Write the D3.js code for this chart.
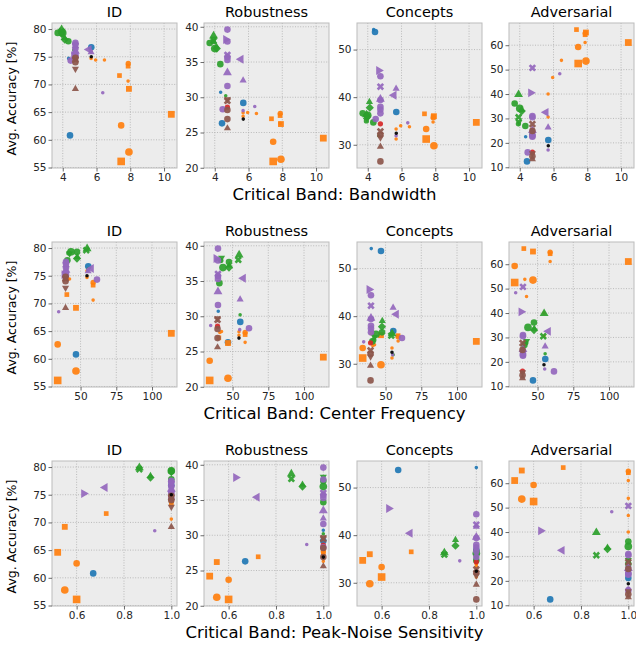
<!DOCTYPE html>
<html>
<head>
<meta charset="utf-8">
<script src="https://cdn.jsdelivr.net/npm/d3@7"></script>
<style>
  body { margin: 0; background: #fff; }
  svg { font-family: 'DejaVu Sans', sans-serif; font-weight: 400; }
</style>
</head>
<body>
<svg id="chart" width="636" height="645"></svg>
<script>
// one entry per model, grouped by family (blue, orange, green, red, purple, brown, black)
const family = [
  0, 0, 0,
  1, 1, 1, 1, 1, 1, 1, 1, 1, 1, 1, 1, 1,
  2, 2, 2, 2, 2, 2, 2, 2, 2, 2,
  3,
  4, 4, 4, 4, 4, 4, 4, 4, 4, 4, 4, 4, 4,
  5, 5, 5, 5, 5,
  6
]
const shape = [
  'o', 'o', 'o',
  's', 'o', 'o', 's', 's', 's', 'o', 's', 'o', 'o', 'o', 'o', 'o',
  '^', 'X', 'D', '^', 'o', 'o', 'o', 'v', 'o', 'o',
  'o',
  '>', '<', 'o', 'o', '^', 'o', 'o', 'X', 'o', '^', 'o', 'o', 'o',
  'X', 'o', 'o', 'v', '^',
  'o'
]
const sizeClass = [
  3, 3, 1,
  5, 4, 3, 4, 3, 2, 2, 2, 1, 1, 1, 1, 1,
  3, 3, 3, 2, 3, 4, 3, 2, 1, 2,
  2,
  3, 3, 1, 3, 2, 1, 3, 3, 3, 3, 3, 3, 3,
  3, 3, 3, 2, 2,
  1
]

const bandwidth = [
  4.43, 5.69, 4.35,
  7.46, 7.92, 7.46, 10.43, 7.92, 7.36, 7.88, 7.87, 7.87, 5.68, 5.68, 5.95, 6.47,
  3.93, 3.93, 4.12, 4.10, 3.70, 4.00, 4.33, 3.95, 4.65, 3.92,
  4.75,
  4.65, 5.55, 6.37, 4.47, 5.68, 5.68, 4.75, 4.75, 4.75, 4.75, 4.75, 4.75, 4.75,
  4.75, 4.75, 4.75, 4.75, 4.75,
  5.69
]
const centerFreq = [
  46.8, 55.4, 40.0,
  34.0, 46.8, 34.0, 113.5, 46.8, 40.4, 58.8, 58.8, 58.8, 54.5, 54.5, 42.3, 41.1,
  54.6, 54.0, 47.5, 47.7, 47.5, 43.3, 40.8, 42.3, 55.3, 41.8,
  39.5,
  38.5, 57.5, 34.7, 61.5, 55.3, 55.0, 39.8, 39.8, 39.8, 39.8, 39.8, 39.8, 39.8,
  39.5, 39.5, 39.5, 39.5, 39.5,
  54.5
]
const peakNoise = [
  0.67, 1, 1,
  0.60, 0.55, 0.60, 0.52, 0.55, 0.725, 1, 1, 1, 1, 1, 1, 1,
  0.865, 0.865, 0.912, 0.912, 1, 1, 1, 1, 1, 1,
  1,
  0.63, 0.72, 0.93, 1, 1, 1, 1, 1, 1, 1, 1, 1, 1,
  1, 1, 1, 1, 1,
  1
]

const accID = [
  60.8, 76.7, 74.7,
  56.1, 57.8, 62.6, 64.6, 69.2, 71.6, 73.8, 73.3, 70.6, 75.9, 74.7, 74.4, 74.4,
  79.9, 79.6, 78.1, 78.4, 79.3, 79.3, 77.8, 79.0, 76.2, 79.1,
  74.6,
  75.2, 76.3, 68.5, 74.3, 75.8, 76.0, 77.5, 77.0, 76.5, 76.0, 75.5, 77.2, 75.1,
  74.5, 74.0, 74.8, 72.8, 69.2,
  75.0
]
const accRob = [
  26.3, 29.2, 30.7,
  20.9, 21.2, 23.7, 24.2, 26.2, 26.95, 27.7, 27.4, 26.3, 27.8, 27.3, 27.85, 27.7,
  38.7, 38.0, 36.9, 37.2, 37.7, 36.9, 34.7, 38.3, 30.2, 37.9,
  28.6,
  38.2, 35.4, 28.7, 28.3, 32.4, 28.1, 39.6, 36.0, 35.7, 33.5, 31.6, 37.9, 35.3,
  29.5, 28.2, 26.9, 29.7, 25.6,
  26.9
]
const accCon = [
  53.7, 36.9, 54.2,
  31.2, 29.8, 33.3, 34.7, 36.0, 36.5, 35.7, 35.9, 34.8, 33.3, 31.2, 34.0, 33.8,
  36.3, 35.9, 37.8, 39.0, 36.6, 36.2, 34.7, 35.6, 31.9, 35.0,
  34.4,
  45.6, 40.4, 34.6, 35.4, 41.8, 31.9, 38.0, 42.2, 44.4, 39.6, 36.6, 39.4, 37.4,
  32.8, 32.1, 26.5, 31.5, 29.6,
  32.4
]
const accAdv = [
  12.4, 21.2, 22.5,
  52.5, 53.5, 59.3, 61.1, 65.2, 66.4, 64.9, 64.3, 61.1, 40.0, 30.6, 46.8, 53.8,
  39.8, 30.5, 33.0, 33.6, 36.1, 34.1, 26.9, 28.5, 23.3, 27.8,
  16.2,
  40.5, 32.5, 48.3, 16.1, 26.3, 17.1, 22.5, 50.7, 31.0, 25.1, 23.3, 30.5, 22.8,
  27.7, 24.9, 14.5, 15.7, 13.3,
  18.8
]

const benchmarks = ['ID', 'Robustness', 'Concepts', 'Adversarial']
const bandwidthTicks = [4, 6, 8, 10]
const centerFreqTicks = [50, 75, 100]
const peakNoiseTicks = [0.6, 0.8, 1.0]
const idTicks = [55, 60, 65, 70, 75, 80]
const robTicks = [20, 25, 30, 35, 40]
const conTicks = [30, 40, 50]
const advTicks = [10, 20, 30, 40, 50, 60]

const rows = [
  { values: bandwidth, ticks: bandwidthTicks, fmt: d3.format('d'), label: 'Critical Band: Bandwidth' },
  { values: centerFreq, ticks: centerFreqTicks, fmt: d3.format('d'), label: 'Critical Band: Center Frequency' },
  { values: peakNoise, ticks: peakNoiseTicks, fmt: d3.format('.1f'), label: 'Critical Band: Peak-Noise Sensitivity' },
]
const cols = [
  { values: accID, ticks: idTicks },
  { values: accRob, ticks: robTicks },
  { values: accCon, ticks: conTicks },
  { values: accAdv, ticks: advTicks },
]

const palette = ['#1f77b4', '#ff7f0e', '#2ca02c', '#d62728', '#9467bd', '#8c564b', '#000000']
const symbolFor = {
  o: d3.symbolCircle, s: d3.symbolSquare, D: d3.symbolSquare, X: d3.symbolCross,
  '^': d3.symbolTriangle, v: d3.symbolTriangle, '<': d3.symbolTriangle, '>': d3.symbolTriangle,
}
const rotateFor = { o: 0, s: 0, D: 45, X: 45, '^': 0, v: 180, '<': -90, '>': 90 }
const area = d3.scaleLinear().domain([1, 5]).range([10, 58])

const colLeft = [52, 204, 357, 509]
const rowTop = [23, 242, 461]
const panelW = 125
const panelH = 145

// matplotlib-like autoscale with 5% margins
const padded = values => {
  const [lo, hi] = d3.extent(values)
  const m = (hi - lo) * 0.05
  return [lo - m, hi + m]
}

const svg = d3.select('#chart')
const models = d3.range(family.length)

rows.forEach((row, ri) => {
  const x = d3.scaleLinear().domain(padded(row.values)).range([0, panelW])

  cols.forEach((col, ci) => {
    const y = d3.scaleLinear().domain(padded(col.values)).range([panelH, 0])
    const g = svg.append('g')
      .attr('transform', `translate(${colLeft[ci]},${rowTop[ri]})`)

    g.append('rect')
      .attr('width', panelW)
      .attr('height', panelH)
      .attr('fill', '#ececec')

    g.selectAll('line.gx')
      .data(row.ticks)
      .join('line')
      .attr('class', 'gx')
      .attr('x1', d => x(d)).attr('x2', d => x(d))
      .attr('y1', 0).attr('y2', panelH)
      .attr('stroke', '#adadad')
      .attr('stroke-width', 0.8)
      .attr('stroke-dasharray', '1,1.6')

    g.selectAll('line.gy')
      .data(col.ticks)
      .join('line')
      .attr('class', 'gy')
      .attr('x1', 0).attr('x2', panelW)
      .attr('y1', d => y(d)).attr('y2', d => y(d))
      .attr('stroke', '#adadad')
      .attr('stroke-width', 0.8)
      .attr('stroke-dasharray', '1,1.6')

    const clipId = `clip-${ri}-${ci}`
    g.append('clipPath').attr('id', clipId)
      .append('rect').attr('width', panelW).attr('height', panelH)

    g.append('g')
      .attr('clip-path', `url(#${clipId})`)
      .selectAll('path')
      .data(models)
      .join('path')
      .attr('d', i => d3.symbol(symbolFor[shape[i]], area(sizeClass[i]))())
      .attr('transform', i =>
        `translate(${x(row.values[i])},${y(col.values[i])}) rotate(${rotateFor[shape[i]]})`)
      .attr('fill', i => palette[family[i]])
      .attr('fill-opacity', 0.92)

    g.append('rect')
      .attr('width', panelW)
      .attr('height', panelH)
      .attr('fill', 'none')
      .attr('stroke', '#bcbcbc')
      .attr('stroke-width', 1)

    const xAxis = g.append('g')
      .attr('transform', `translate(0,${panelH})`)
      .call(d3.axisBottom(x).tickValues(row.ticks).tickFormat(row.fmt).tickSize(3.5).tickPadding(2))
    const yAxis = g.append('g')
      .call(d3.axisLeft(y).tickValues(col.ticks).tickFormat(d3.format('d')).tickSize(3.5).tickPadding(2))

    for (const ax of [xAxis, yAxis]) {
      ax.select('.domain').remove()
      ax.selectAll('.tick line').attr('stroke', '#444').attr('stroke-width', 0.8)
      ax.selectAll('.tick text')
        .attr('fill', '#262626')
        .style('font-family', "'DejaVu Sans', sans-serif")
        .style('font-size', '10.5px')
    }

    g.append('text')
      .attr('x', panelW / 2)
      .attr('y', -6)
      .attr('text-anchor', 'middle')
      .style('font-size', '14.5px')
      .style('font-weight', '400')
      .text(benchmarks[ci])
  })

  svg.append('text')
    .attr('x', 334.5)
    .attr('y', rowTop[ri] + panelH + 32)
    .attr('text-anchor', 'middle')
    .style('font-size', '16.5px')
    .style('font-weight', '400')
    .text(row.label)

  svg.append('text')
    .attr('transform', `translate(16,${rowTop[ri] + panelH / 2 + 3}) rotate(-90)`)
    .attr('text-anchor', 'middle')
    .style('font-size', '12.5px')
    .style('font-weight', '400')
    .text('Avg. Accuracy [%]')
})
</script>
</body>
</html>
